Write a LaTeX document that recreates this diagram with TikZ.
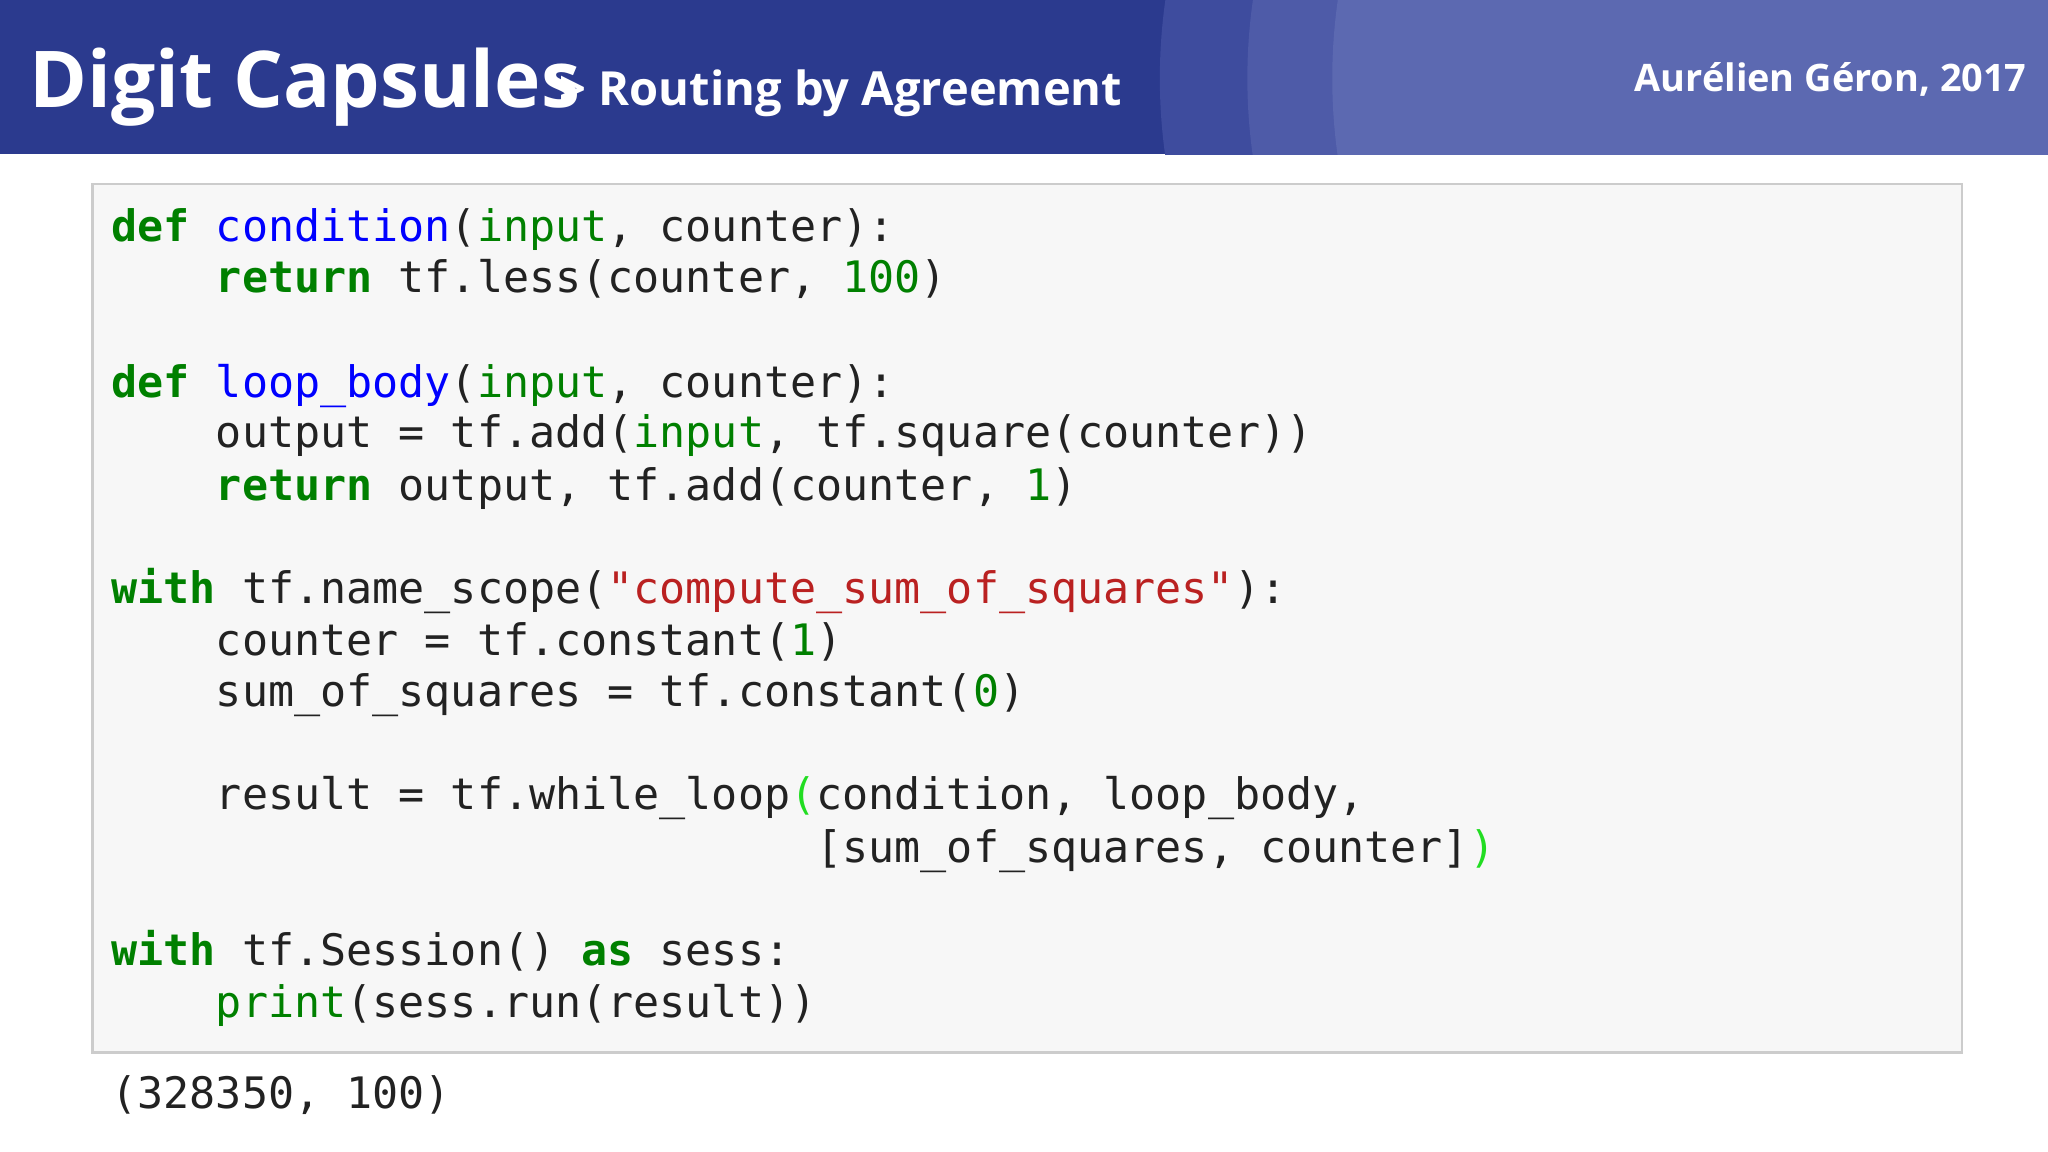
\documentclass[tikz,border=0pt]{standalone}
\usepackage{fontspec}
\setmainfont{Open Sans}
\setmonofont{DejaVu Sans Mono}
\definecolor{band}{HTML}{2B3A8E}
\definecolor{c1}{HTML}{3E4C9E}
\definecolor{c2}{HTML}{4E5BA8}
\definecolor{c3}{HTML}{5C69B1}
\definecolor{kwc}{HTML}{008000}
\definecolor{fnc}{HTML}{0000FF}
\definecolor{stc}{HTML}{BA2121}
\definecolor{brc}{HTML}{22DD22}
\definecolor{txt}{HTML}{222222}
\newcommand{\kw}[1]{\textcolor{kwc}{\bfseries #1}}
\newcommand{\fn}[1]{\textcolor{fnc}{#1}}
\newcommand{\bi}[1]{\textcolor{kwc}{#1}}
\newcommand{\st}[1]{\textcolor{stc}{#1}}
\newcommand{\br}[1]{\textcolor{brc}{#1}}
\begin{document}
\begin{tikzpicture}[x=0.5pt,y=-0.5pt,
  code/.style={anchor=base west,inner sep=0,text=txt,font=\ttfamily\fontsize{16.6}{20}\selectfont}]
\useasboundingbox (0,0) rectangle (1568,882);
\fill[white] (0,0) rectangle (1568,882);
\begin{scope}
\clip (0,0) rectangle (1568,118);
\fill[band] (0,0) rectangle (1568,118);
\fill[c1] (1310,60) circle (422);
\fill[c2] (1375,60) circle (420);
\fill[c3] (1440,60) circle (420);
\end{scope}
\node[anchor=base west,inner sep=0,text=white,font=\bfseries\fontsize{30}{36}\selectfont] (t1) at (22,82) {Digit Capsules};
\node[anchor=base west,inner sep=0,text=white,font=\bfseries\fontsize{18}{22}\selectfont] (t2) at (428,81) {> Routing by Agreement};
\node[anchor=base east,inner sep=0,text=white,font=\bfseries\fontsize{14.5}{18}\selectfont] (t3) at (1552,70) {Aurélien Géron, 2017};
\node[draw=black!20,line width=1pt,fill=black!3,minimum width=715.5pt,minimum height=332.5pt,anchor=north west,inner sep=0] (box) at (70,140) {};
\node[code] (l1) at (85,185) {\kw{def} \fn{condition}(\bi{input}, counter):};
\node[code] (l2) at (85,224) {\phantom{xxxx}\kw{return} tf.less(counter, \bi{100})};
\node[code] (l3) at (85,304) {\kw{def} \fn{loop\_body}(\bi{input}, counter):};
\node[code] (l4) at (85,343) {\phantom{xxxx}output = tf.add(\bi{input}, tf.square(counter))};
\node[code] (l5) at (85,383) {\phantom{xxxx}\kw{return} output, tf.add(counter, \bi{1})};
\node[code] (l6) at (85,462) {\kw{with} tf.name\_scope(\st{"compute\_sum\_of\_squares"}):};
\node[code] (l7) at (85,502) {\phantom{xxxx}counter = tf.constant(\bi{1})};
\node[code] (l8) at (85,541) {\phantom{xxxx}sum\_of\_squares = tf.constant(\bi{0})};
\node[code] (l9) at (85,620) {\phantom{xxxx}result = tf.while\_loop\br{(}condition, loop\_body,};
\node[code] (l10) at (85,660) {\phantom{xxxxxxxxxxxxxxxxxxxxxxxxxxx}[sum\_of\_squares, counter]\br{)}};
\node[code] (l11) at (85,739) {\kw{with} tf.Session() \kw{as} sess:};
\node[code] (l12) at (85,779) {\phantom{xxxx}\bi{print}(sess.run(result))};
\node[code] (out) at (85,849) {(328350, 100)};
\end{tikzpicture}
\end{document}
